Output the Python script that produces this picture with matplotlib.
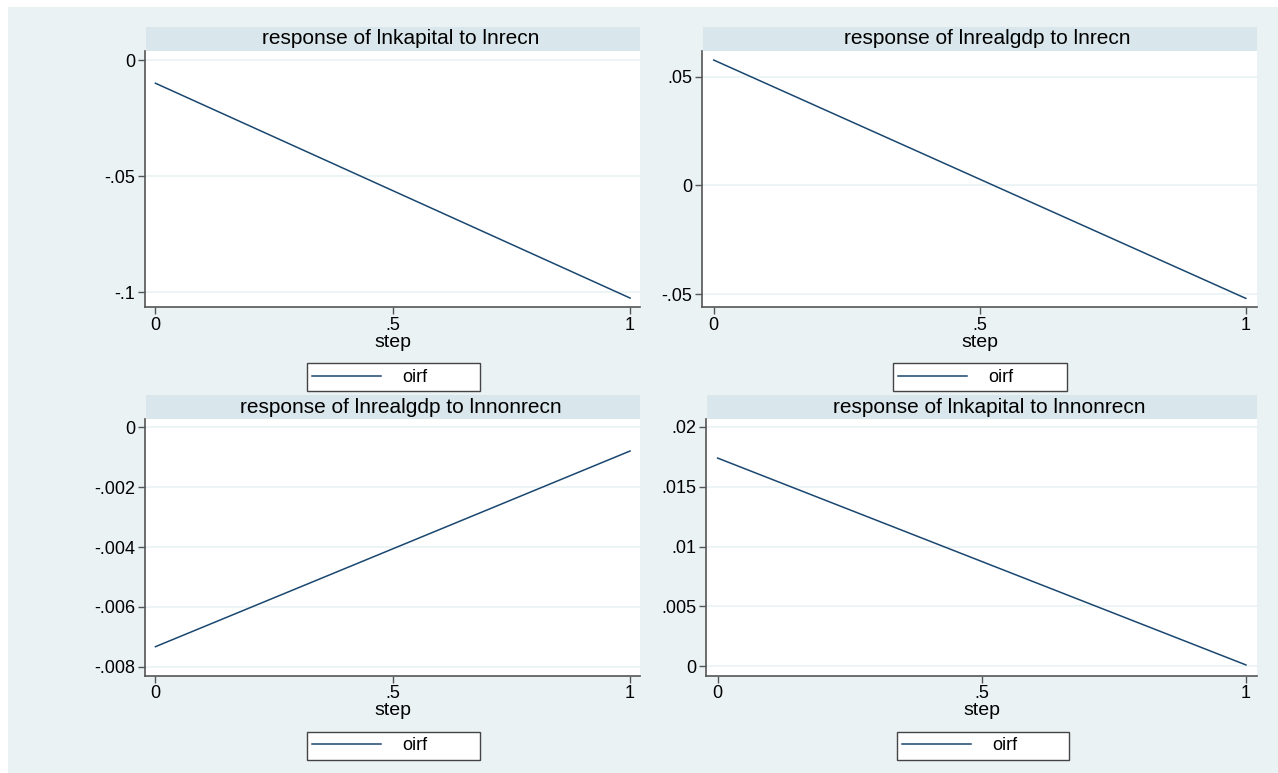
import matplotlib.pyplot as plt
from matplotlib.patches import Rectangle

plt.rcParams['font.family'] = ['Liberation Sans', 'DejaVu Sans']

# data (oirf at step 0 and 1)
steps = [0, 1]
kapital_recn = [-0.0099, -0.1026]
realgdp_recn = [0.0577, -0.0520]
realgdp_nonrecn = [-0.00733, -0.00079]
kapital_nonrecn = [0.01738, 0.00012]

titles = ["response of lnkapital to lnrecn",
          "response of lnrealgdp to lnrecn",
          "response of lnrealgdp to lnnonrecn",
          "response of lnkapital to lnnonrecn"]
series = [kapital_recn, realgdp_recn, realgdp_nonrecn, kapital_nonrecn]
yticks = [[0, -0.05, -0.1],
          [0.05, 0, -0.05],
          [0, -0.002, -0.004, -0.006, -0.008],
          [0.02, 0.015, 0.01, 0.005, 0]]
ylabels = [["0", "-.05", "-.1"],
           [".05", "0", "-.05"],
           ["0", "-.002", "-.004", "-.006", "-.008"],
           [".02", ".015", ".01", ".005", "0"]]
ylims = [(-0.1066, 0.00414), (-0.0561, 0.062), (-0.0083, 0.00028), (-0.00078, 0.02064)]
xticks = [0, 0.5, 1]
xlabels = ["0", ".5", "1"]

W, H = 1278, 773
BG = '#EAF2F3'
STRIP = '#D9E6EB'
LINE = '#1A476F'

fig = plt.figure(figsize=(W / 100, H / 100), dpi=100)
fig.patch.set_facecolor('white')
fig.patches.append(Rectangle((8 / W, 0), 1 - 8 / W, 1 - 7 / H, transform=fig.transFigure,
                             facecolor=BG, edgecolor='none', zorder=-10))

# pixel boxes: left, top, right, bottom
boxes = [(145, 50.7, 640, 307.3), (702, 50.7, 1257, 307.3),
         (145, 419, 640, 675.7), (706, 419, 1257, 675.7)]
legend_boxes = [(307, 480), (893, 1067), (307, 480), (897, 1069)]

for i, (l, t, r, b) in enumerate(boxes):
    ax = fig.add_axes([l / W, 1 - b / H, (r - l) / W, (b - t) / H])
    ax.set_facecolor('white')
    ax.plot(steps, series[i], color=LINE, lw=1.1, label='oirf')
    ax.set_xlim(-0.022, 1.021)
    ax.set_ylim(*ylims[i])
    ax.set_yticks(yticks[i])
    ax.set_yticklabels(ylabels[i])
    ax.set_xticks(xticks)
    ax.set_xticklabels(xlabels)
    ax.grid(axis='y', color=BG, lw=1.2)
    ax.set_axisbelow(True)
    for s in ['top', 'right']:
        ax.spines[s].set_visible(False)
    for s in ['left', 'bottom']:
        ax.spines[s].set_color('#555555')
        ax.spines[s].set_linewidth(1.2)
    ax.tick_params(direction='out', length=5, width=1, color='#555555',
                   labelsize=13, pad=2, labelcolor='black')
    ax.set_xlabel('step', fontsize=14, labelpad=0)

    # title strip
    sh = 23.5 / (b - t)
    ax.add_patch(Rectangle((0.002, 1), 0.998, sh, transform=ax.transAxes,
                           facecolor=STRIP, edgecolor='none', clip_on=False))
    ax.text(0.5 + 8 / (r - l), 1 + sh / 2, titles[i], transform=ax.transAxes,
            ha='center', va='center', fontsize=15)

    lx0, lx1 = legend_boxes[i]
    ly = b + 84
    ax.legend(loc='lower left', mode='expand',
              bbox_to_anchor=(lx0 / W, 1 - ly / H, (lx1 - lx0) / W, 0.01),
              bbox_transform=fig.transFigure, fontsize=13, handlelength=3.8,
              handletextpad=1.2, borderpad=0.3, fancybox=False,
              framealpha=1, edgecolor='#444444', borderaxespad=0)
    ax.get_legend().get_frame().set_linewidth(1.0)

fig.savefig('out.png', dpi=100, facecolor=fig.get_facecolor())
